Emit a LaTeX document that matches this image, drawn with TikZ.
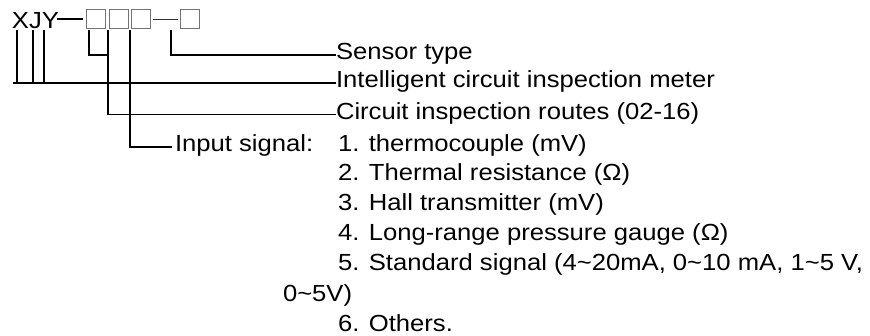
\documentclass[tikz,border=0pt]{standalone}
\usepackage{fontspec}
\setmainfont{Liberation Sans}[FakeStretch=1.1]
\newcommand{\tld}{\textasciitilde}
\begin{document}
\begin{tikzpicture}[x=1pt,y=-1pt,
  lbl/.style={anchor=base west,inner sep=0pt,outer sep=0pt,text height=16pt,text depth=6pt,
    font=\fontsize{23.3}{28}\selectfont},
  conn/.style={line width=1.2pt,black},
  codebox/.style={draw=black!55,line width=1pt,minimum width=19pt,minimum height=19pt,inner sep=0pt}]
\useasboundingbox (0,0) rectangle (870,336);
% code line
\node[lbl] (xjy) at (12,29) {XJY};
\coordinate (d1a) at (57,19);
\coordinate (d1b) at (83,19);
\draw[conn] (d1a) -- (d1b);
\node[codebox] (b1) at (95.5,19.5) {};
\node[codebox] (b2) at (118.5,19.5) {};
\node[codebox] (b3) at (140.5,19.5) {};
\coordinate (d2a) at (153,19);
\coordinate (d2b) at (178,19);
\draw[line width=0.9pt,black!80] (d2a) -- (d2b);
\node[codebox] (b4) at (190,19.5) {};
% texts
\node[lbl] (sensor) at (336,60) {Sensor type};
\node[lbl] (intel) at (336,88) {Intelligent circuit inspection meter};
\node[lbl] (routes) at (336,119.5) {Circuit inspection routes (02-16)};
\node[lbl] (input) at (175,152) {Input signal:};
\node[lbl] (i1) at (338,152) {1. thermocouple (mV)};
\node[lbl] (i2) at (338,181) {2. Thermal resistance (Ω)};
\node[lbl] (i3) at (338,210.5) {3. Hall transmitter (mV)};
\node[lbl] (i4) at (338,240.5) {4. Long-range pressure gauge (Ω)};
\node[lbl] (i5) at (338,271) {5. Standard signal (4\tld20mA, 0\tld10 mA, 1\tld5 V,};
\node[lbl] (i5b) at (283,302) {0\tld5V)};
\node[lbl] (i6) at (338,332) {6. Others.};
% connectors
\coordinate (cx) at (17,30);
\coordinate (cj) at (33,30);
\coordinate (cy) at (44,30);
\coordinate (hstart) at (13,83);
\draw[conn] (cx) -- (cx |- intel.west);
\draw[conn] (cj) -- (cj |- intel.west);
\draw[conn] (cy) -- (cy |- intel.west);
\draw[conn] (hstart) -- (intel.west);
\coordinate (c1) at (89,30);
\coordinate (c2) at (108,30);
\coordinate (c3) at (130,30);
\coordinate (c4) at (171,30);
\draw[conn] (c4) |- (sensor.west);
\draw[conn] (c1) |- (c2 |- sensor.west);
\draw[conn] (c2) |- (routes.west);
\draw[conn] (c3) |- ([xshift=-3pt]input.west);
\end{tikzpicture}
\end{document}
